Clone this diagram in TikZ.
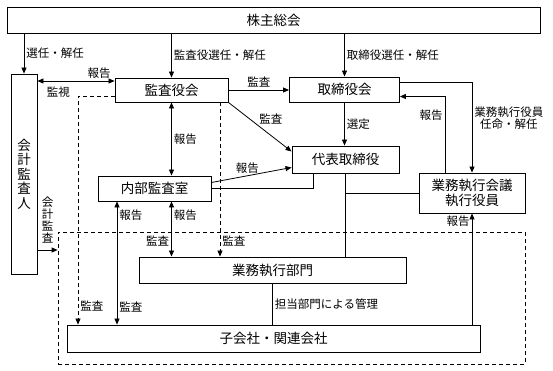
\documentclass[tikz,border=0pt]{standalone}
\usepackage{fontspec}
\setmainfont{Noto Sans CJK JP}
\usetikzlibrary{positioning,arrows.meta,calc}

\begin{document}
\begin{tikzpicture}[
  x=1pt, y=-1pt,
  box/.style={draw, line width=0.9pt, align=center, inner sep=0pt,
              font=\fontsize{13.5}{14.5}\selectfont},
  lbl/.style={font=\fontsize{11.5}{12}\selectfont, inner sep=2pt},
  arr/.style={-{Triangle[length=6pt,width=5pt]}, line width=0.8pt},
  dbl/.style={{Triangle[length=6pt,width=5pt]}-{Triangle[length=6pt,width=5pt]}, line width=0.8pt},
  conn/.style={line width=0.8pt},
  dsh/.style={dash pattern=on 4pt off 3pt, line width=0.8pt}
]
\useasboundingbox (0,0) rectangle (553,371);

% boxes
\node[box, minimum width=533pt, minimum height=26pt] (meeting) at (273.5,20) {株主総会};
\node[box, minimum width=26pt, minimum height=200pt] (acct) at (24,174) {会\\計\\監\\査\\人};
\node[box, minimum width=113pt, minimum height=24pt] (audit) at (171.5,90) {監査役会};
\node[box, minimum width=110pt, minimum height=25pt] (board) at (344.5,89.5) {取締役会};
\node[box, minimum width=107pt, minimum height=27pt] (ceo) at (345.5,159.5) {代表取締役};
\node[box, minimum width=113pt, minimum height=25pt] (internal) at (154.5,188.5) {内部監査室};
\node[box, minimum width=106pt, minimum height=40pt] (council) at (472,193) {業務執行会議\\執行役員};
\node[box, minimum width=267pt, minimum height=26pt] (exec) at (272.5,270) {業務執行部門};
\node[box, minimum width=413pt, minimum height=27pt] (subs) at (273.5,338.5) {子会社・関連会社};
\node[draw, dsh, minimum width=467pt, minimum height=132pt, inner sep=0pt] (group) at (291.5,298) {};

% from the shareholders' meeting
\draw[arr] (meeting.south -| acct.north) -- node[lbl, right] {選任・解任} (acct.north);
\draw[arr] (meeting.south -| audit.north) -- node[lbl, right] {監査役選任・解任} (audit.north);
\draw[arr] (meeting.south -| board.north) -- node[lbl, right] {取締役選任・解任} (board.north);

% audit lines
\coordinate (rep) at ([yshift=9pt]audit.west);
\draw[dbl] (rep -| acct.east) -- node[lbl, pos=0.8, above] {報告} node[lbl, pos=0.27, below=3pt] {監視} (rep);
\draw[arr] (audit.east) -- node[lbl, above] {監査} (audit.east -| board.west);
\draw[arr] (audit.south east) -- node[lbl, above right, xshift=-3pt] {監査} ([yshift=8pt]ceo.west);
\draw[arr] (board.south) -- node[lbl, right] {選定} (board.south |- ceo.north);
\draw[dbl] (audit.south) -- node[lbl, right] {報告} (audit.south |- internal.north);
\draw[arr] ([yshift=6pt]internal.east) -- node[lbl, above, pos=0.45] {報告} ([yshift=-8pt]ceo.west);
\draw[conn] (internal.east) -| ([xshift=-32pt]ceo.south);

% executive side
\draw[arr] ([yshift=7pt]board.east) -| node[lbl, pos=0.7, right, align=center] {業務執行役員\\任命・解任} (council.north);
\draw[arr] ([xshift=-27pt]council.north) |- node[lbl, pos=0.38, left] {報告} ([yshift=-7pt]board.east);
\draw[conn] (ceo.south) -- (ceo.south |- exec.north);
\draw[conn] (council.west) -- (council.west -| ceo.south);
\draw[conn] (exec.south) -- node[lbl, right] {担当部門による管理} (exec.south |- subs.north);
\draw[arr] (subs.north -| council.south) -- node[lbl, pos=0.93, left] {報告} (council.south);

% audits into the group
\coordinate (dl) at (78,0);
\draw[arr, dsh] ([yshift=-6pt]audit.west) -| node[lbl, pos=0.96, right] {監査} (subs.north -| dl);
\draw[arr, dsh] ([xshift=48.5pt]audit.south) -- node[lbl, pos=0.9, right] {監査} ([xshift=48.5pt]audit.south |- exec.north);
\draw[dbl] ([xshift=-37.5pt]internal.south) -- node[lbl, pos=0.11, right] {報告} node[lbl, pos=0.86, right] {監査} ([xshift=-37.5pt]internal.south |- subs.north);
\draw[dbl] (internal.south -| audit.south) -- node[lbl, pos=0.25, right] {報告} node[lbl, pos=0.71, left] {監査} (audit.south |- exec.north);
\coordinate (ka) at (0,250);
\draw[arr] (acct.east |- ka) -- node[lbl, above=4pt, align=center] {会\\計\\監\\査} (group.west |- ka);
\end{tikzpicture}
\end{document}
